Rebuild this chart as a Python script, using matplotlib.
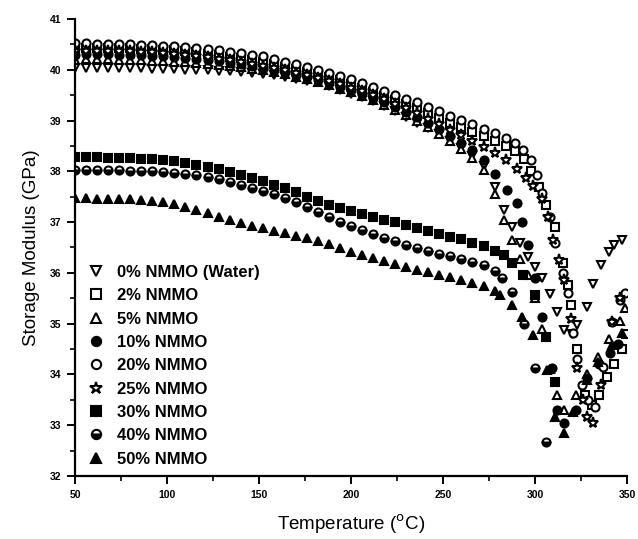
import matplotlib
matplotlib.use('Agg')
import matplotlib.pyplot as plt
from matplotlib.ticker import MultipleLocator

plt.rcParams['font.family'] = ['Liberation Sans', 'DejaVu Sans']

# common temperature grid for the smooth part (degC)
T_base = [50, 56, 62, 68, 74, 80, 86, 92, 98, 104, 110, 116, 122, 128, 134, 140,
          146, 152, 158, 164, 170, 176, 182, 188, 194, 200, 206, 212, 218, 224,
          230, 236, 242, 248, 254, 260, 266, 272, 278]

# 0% NMMO (water)
E0 = [40.03, 40.04, 40.04, 40.04, 40.03, 40.03, 40.03, 40.02, 40.02, 40.01, 40.00,
      40.00, 39.99, 39.98, 39.97, 39.96, 39.94, 39.92, 39.89, 39.85, 39.81, 39.78,
      39.75, 39.68, 39.60, 39.53, 39.46, 39.38, 39.28, 39.18, 39.07, 38.96, 38.85,
      38.73, 38.60, 38.46, 38.30, 38.10, 37.70]
T0_tail = [283, 287.5, 292, 296, 300, 304, 308, 312, 316, 320, 323, 328, 331.5, 336, 340, 343, 347]
E0_tail = [37.24, 36.9, 36.59, 36.31, 36.11, 35.9, 35.58, 35.23, 34.87, 34.8, 34.97, 35.33,
           35.78, 36.15, 36.41, 36.55, 36.65]

# 2% NMMO
E2 = [40.42, 40.43, 40.43, 40.43, 40.42, 40.42, 40.41, 40.40, 40.39, 40.38, 40.36,
      40.34, 40.32, 40.29, 40.26, 40.23, 40.20, 40.16, 40.11, 40.06, 40.01, 39.96,
      39.91, 39.85, 39.79, 39.72, 39.65, 39.57, 39.49, 39.41, 39.33, 39.24, 39.15,
      39.05, 38.96, 38.87, 38.78, 38.69, 38.60]
T2_tail = [284, 289, 294, 298, 302, 306, 311, 315, 318, 319.5, 323, 327, 331, 335, 339, 343, 347, 349.5]
E2_tail = [38.5, 38.40, 38.25, 38.0, 37.7, 37.33, 36.9, 36.2, 35.76, 35.37, 34.5, 33.6,
           33.4, 33.6, 33.95, 34.2, 34.5, 34.8]

# 5% NMMO
E5 = [40.20, 40.21, 40.21, 40.21, 40.20, 40.20, 40.19, 40.18, 40.17, 40.16, 40.15,
      40.13, 40.11, 40.09, 40.07, 40.05, 40.02, 39.99, 39.95, 39.91, 39.86, 39.81,
      39.76, 39.70, 39.63, 39.56, 39.48, 39.40, 39.31, 39.21, 39.10, 38.99, 38.87,
      38.74, 38.60, 38.44, 38.26, 38.02, 37.55]
T5_tail = [283, 287.5, 292, 296, 300, 304, 308, 312, 316, 322, 328, 334, 340, 346, 349]
E5_tail = [37.05, 36.65, 36.28, 35.95, 35.5, 34.9, 34.1, 33.6, 33.3, 33.6, 34.0, 34.35,
           34.7, 35.05, 35.3]

# 10% NMMO
E10 = [40.30, 40.31, 40.31, 40.31, 40.30, 40.30, 40.29, 40.28, 40.27, 40.26, 40.24,
       40.22, 40.20, 40.17, 40.14, 40.11, 40.07, 40.03, 39.99, 39.95, 39.90, 39.85,
       39.80, 39.74, 39.67, 39.60, 39.53, 39.45, 39.36, 39.27, 39.17, 39.06, 38.95,
       38.83, 38.70, 38.56, 38.41, 38.22, 37.95]
T10_tail = [285, 290, 293, 296, 300, 304, 309, 312, 316, 322, 328, 335, 341, 345]
E10_tail = [37.63, 37.37, 37.0, 36.55, 35.9, 35.13, 34.13, 33.3, 33.05, 33.3, 33.93,
            34.2, 34.42, 34.6]

# 20% NMMO
E20 = [40.52, 40.52, 40.51, 40.51, 40.50, 40.50, 40.49, 40.48, 40.47, 40.46, 40.44,
       40.42, 40.40, 40.38, 40.35, 40.33, 40.30, 40.27, 40.22, 40.16, 40.11, 40.05,
       39.99, 39.93, 39.87, 39.81, 39.74, 39.66, 39.58, 39.50, 39.43, 39.36, 39.27,
       39.18, 39.09, 39.01, 38.93, 38.84, 38.75]
T20_tail = [284, 289, 293.5, 298, 301, 304, 308, 311, 315, 318, 320.5, 323, 325.5, 329,
            332.6, 337, 342, 346, 349]
E20_tail = [38.66, 38.55, 38.42, 38.22, 37.93, 37.57, 37.1, 36.59, 36.0, 35.6, 34.82,
            34.3, 33.8, 33.5, 33.36, 34.15, 35.03, 35.46, 35.6]

# 25% NMMO
E25 = [40.36, 40.37, 40.37, 40.37, 40.36, 40.36, 40.35, 40.34, 40.33, 40.31, 40.29,
       40.27, 40.25, 40.22, 40.19, 40.16, 40.12, 40.08, 40.04, 39.99, 39.94, 39.89,
       39.84, 39.78, 39.72, 39.65, 39.58, 39.50, 39.42, 39.33, 39.24, 39.14, 39.04,
       38.93, 38.82, 38.71, 38.60, 38.48, 38.36]
T25_tail = [284, 290, 295, 299, 303.8, 307, 310, 313, 316, 319.6, 323, 326, 328, 331.5,
            336, 342, 346]
E25_tail = [38.22, 38.05, 37.87, 37.72, 37.45, 37.1, 36.65, 36.25, 35.86, 35.1, 34.13,
            33.5, 33.16, 33.04, 33.8, 35.03, 35.5]

# 30% NMMO
E30 = [38.28, 38.28, 38.28, 38.27, 38.27, 38.26, 38.25, 38.24, 38.22, 38.20, 38.17,
       38.13, 38.09, 38.04, 37.98, 37.92, 37.86, 37.80, 37.74, 37.67, 37.59, 37.49,
       37.41, 37.34, 37.27, 37.21, 37.16, 37.10, 37.05, 37.00, 36.94, 36.88, 36.82,
       36.76, 36.71, 36.66, 36.59, 36.52, 36.44]
T30_tail = [283, 287.5, 293.5, 300, 306, 311]
E30_tail = [36.35, 36.2, 35.96, 35.56, 34.74, 33.85]

# 40% NMMO
E40 = [38.02, 38.02, 38.02, 38.02, 38.02, 38.01, 38.01, 38.00, 37.99, 37.97, 37.95,
       37.92, 37.88, 37.84, 37.79, 37.74, 37.68, 37.62, 37.56, 37.48, 37.39, 37.29,
       37.19, 37.10, 37.01, 36.93, 36.85, 36.77, 36.69, 36.62, 36.55, 36.49, 36.43,
       36.38, 36.33, 36.28, 36.22, 36.15, 36.04]
T40_tail = [282, 287.5, 294, 300, 306]
E40_tail = [35.9, 35.62, 35.0, 34.13, 32.67]

# 50% NMMO
E50 = [37.47, 37.47, 37.46, 37.46, 37.45, 37.45, 37.44, 37.42, 37.39, 37.35, 37.30,
       37.24, 37.17, 37.10, 37.04, 36.98, 36.93, 36.88, 36.83, 36.78, 36.73, 36.68,
       36.63, 36.56, 36.49, 36.42, 36.35, 36.29, 36.24, 36.18, 36.12, 36.06, 36.01,
       35.96, 35.91, 35.86, 35.81, 35.75, 35.65]
T50_tail = [281, 287.5, 293, 299, 306.5, 311, 316, 320.5, 328, 334, 342, 347]
E50_tail = [35.56, 35.37, 35.13, 34.78, 34.09, 33.16, 32.85, 33.26, 33.9, 34.24, 34.58, 34.82]

labels = ['0% NMMO (Water)', '2% NMMO', '5% NMMO', '10% NMMO', '20% NMMO',
          '25% NMMO', '30% NMMO', '40% NMMO', '50% NMMO']

series = [
    (E0, T0_tail, E0_tail, dict(marker='v', mfc='white')),
    (E2, T2_tail, E2_tail, dict(marker='s', mfc='white')),
    (E5, T5_tail, E5_tail, dict(marker='^', mfc='white')),
    (E10, T10_tail, E10_tail, dict(marker='o', mfc='black')),
    (E20, T20_tail, E20_tail, dict(marker='o', mfc='white')),
    (E25, T25_tail, E25_tail, dict(marker='*', mfc='white', ms=8)),
    (E30, T30_tail, E30_tail, dict(marker='s', mfc='black')),
    (E40, T40_tail, E40_tail, dict(marker='o', mfc='black', fillstyle='bottom')),
    (E50, T50_tail, E50_tail, dict(marker='^', mfc='black')),
]

fig = plt.figure(figsize=(6.38, 5.39), dpi=100)
ax = fig.add_axes([0.1176, 0.1169, 0.8652, 0.8479])

for (E, Tt, Et, st), lab in zip(series, labels):
    kw = dict(ls='none', mec='black', mew=1.5, ms=5.8)
    kw.update(st)
    if kw.get('fillstyle') == 'bottom':
        kw['markerfacecoloralt'] = 'white'
    ax.plot(T_base + Tt, E + Et, label=lab, **kw)

ax.set_xlim(50, 350)
ax.set_ylim(32, 41)
ax.xaxis.set_major_locator(MultipleLocator(50))
ax.xaxis.set_minor_locator(MultipleLocator(25))
ax.yaxis.set_major_locator(MultipleLocator(1))
ax.yaxis.set_minor_locator(MultipleLocator(0.5))
ax.spines['top'].set_visible(False)
ax.spines['right'].set_visible(False)
ax.spines['left'].set_linewidth(1.6)
ax.spines['bottom'].set_linewidth(1.6)
ax.tick_params(which='major', direction='out', length=6, width=1.4, labelsize=7.5, pad=4)
ax.tick_params(which='minor', direction='out', length=3.5, width=1.2)
for t in ax.get_xticklabels() + ax.get_yticklabels():
    t.set_fontweight('bold')

ax.set_xlabel('Temperature ($^{\\mathrm{o}}$C)', fontsize=13.5, labelpad=9)
ax.set_ylabel('Storage Modulus (GPa)', fontsize=13.5, labelpad=7)

leg = ax.legend(loc='lower left', bbox_to_anchor=(0.0, -0.005), frameon=False,
                fontsize=12, handletextpad=0.7, labelspacing=0.5, markerscale=1.15,
                handlelength=1.1, borderaxespad=0.3)
for t in leg.get_texts():
    t.set_fontweight('bold')

fig.savefig('out.png', dpi=100)
